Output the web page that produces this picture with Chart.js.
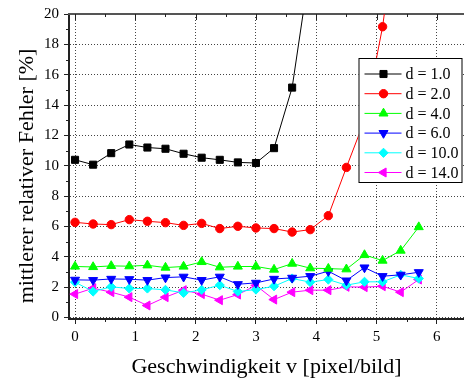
<!DOCTYPE html>
<html>
<head>
<meta charset="utf-8">
<script src="https://cdn.jsdelivr.net/npm/chart.js@4/dist/chart.umd.min.js"></script>
<style>
  html, body { margin: 0; padding: 0; background: #fff; overflow: hidden; }
</style>
</head>
<body>
<canvas id="chart" width="464" height="381"></canvas>
<script>
// speeds v [pixel/bild]
const speeds = [0, 0.3, 0.6, 0.9, 1.2, 1.5, 1.8, 2.1, 2.4, 2.7, 3.0, 3.3, 3.6, 3.9, 4.2, 4.5, 4.8, 5.1, 5.4, 5.7]

// mean relative error [%] per d
const errD1 = [10.39, 10.07, 10.83, 11.4, 11.2, 11.12, 10.79, 10.53, 10.39, 10.22, 10.18, 11.16, 15.15, 23.2]
const errD2 = [6.27, 6.16, 6.12, 6.45, 6.34, 6.25, 6.07, 6.2, 5.86, 6.01, 5.9, 5.86, 5.63, 5.79, 6.71, 9.89, 13.0, 19.16, 28]
const errD4 = [3.36, 3.33, 3.4, 3.38, 3.44, 3.29, 3.36, 3.66, 3.31, 3.36, 3.36, 3.16, 3.55, 3.25, 3.22, 3.18, 4.12, 3.75, 4.41, 5.96]
const errD6 = [2.48, 2.46, 2.54, 2.52, 2.46, 2.63, 2.68, 2.46, 2.68, 2.19, 2.28, 2.54, 2.61, 2.72, 3.05, 2.43, 3.29, 2.72, 2.81, 2.98]
const errD10 = [2.33, 1.71, 2.02, 1.91, 1.91, 1.82, 1.62, 1.82, 2.13, 1.71, 1.84, 2.06, 2.57, 2.33, 2.5, 2.13, 2.35, 2.35, 2.81, 2.57]
const errD14 = [1.54, 1.93, 1.67, 1.34, 0.79, 1.34, 1.8, 1.54, 1.14, 1.51, 2.11, 1.18, 1.67, 1.8, 1.8, 2.02, 2.0, 2.06, 1.67, 2.5]

const seriesLabels = ["d = 1.0", "d = 2.0", "d = 4.0", "d = 6.0", "d = 10.0", "d = 14.0"]
const xTicks = [0, 1, 2, 3, 4, 5, 6]
const yTicks = [0, 2, 4, 6, 8, 10, 12, 14, 16, 18, 20]

const FONT = '"Liberation Serif", "Times New Roman", serif'

function pts(arr) {
  return arr.map((y, i) => ({ x: speeds[i], y: y }))
}

function series(label, arr, color, style, rotation, radius) {
  return {
    label: label,
    data: pts(arr),
    borderColor: color,
    backgroundColor: color,
    borderWidth: 1,
    pointStyle: style,
    pointRotation: rotation,
    pointRadius: radius,
    pointBorderWidth: 1,
    pointBorderColor: color,
    pointBackgroundColor: color,
    tension: 0,
  }
}

// frame top line + minor ticks + inward top ticks
const framePlugin = {
  id: "frame",
  beforeDatasetsDraw(chart) {
    const ctx = chart.ctx
    const a = chart.chartArea
    const xs = chart.scales.x
    const ys = chart.scales.y
    ctx.save()
    ctx.strokeStyle = "#555"
    ctx.lineWidth = 2
    ctx.beginPath()
    ctx.moveTo(a.left - 1, a.top)
    ctx.lineTo(a.right, a.top)
    ctx.stroke()

    ctx.strokeStyle = "#222"
    ctx.lineWidth = 1
    ctx.beginPath()
    xTicks.forEach(v => {
      const px = Math.round(xs.getPixelForValue(v)) + 0.5
      ctx.moveTo(px, a.top); ctx.lineTo(px, a.top + 6)
      const pm = Math.round(xs.getPixelForValue(v + 0.5)) + 0.5
      if (v + 0.5 < xs.max) {
        ctx.moveTo(pm, a.top); ctx.lineTo(pm, a.top + 3)
        ctx.moveTo(pm, a.bottom); ctx.lineTo(pm, a.bottom + 3)
      }
    })
    yTicks.forEach(v => {
      if (v + 1 <= ys.max) {
        const py = Math.round(ys.getPixelForValue(v + 1)) + 0.5
        ctx.moveTo(a.left, py); ctx.lineTo(a.left - 3, py)
      }
    })
    ctx.stroke()
    ctx.restore()
  },
}

const boxLegend = {
  id: "boxLegend",
  afterDatasetsDraw(chart) {
    const ctx = chart.ctx
    const a = chart.chartArea
    const left = a.right - 105.5
    const top = a.top + 44
    const w = 104
    const h = 125
    ctx.save()
    ctx.fillStyle = "#fff"
    ctx.fillRect(left, top, w, h)
    ctx.strokeStyle = "#000"
    ctx.lineWidth = 1
    ctx.strokeRect(left + 0.5, top + 0.5, w - 1, h - 1)
    chart.data.datasets.forEach((ds, i) => {
      const y = top + 16 + i * 19.7
      ctx.strokeStyle = ds.borderColor
      ctx.fillStyle = ds.backgroundColor
      ctx.lineWidth = 1
      ctx.beginPath()
      ctx.moveTo(left + 6, y)
      ctx.lineTo(left + 43, y)
      ctx.stroke()
      Chart.helpers.drawPoint(ctx, {
        pointStyle: ds.pointStyle,
        rotation: ds.pointRotation,
        radius: ds.pointRadius,
        borderWidth: 1,
      }, left + 25, y)
      ctx.fillStyle = "#000"
      ctx.font = "16px " + FONT
      ctx.textBaseline = "middle"
      ctx.textAlign = "left"
      ctx.fillText(ds.label, left + 47, y + 1)
    })
    ctx.restore()
  },
}

const titles = {
  id: "titles",
  afterDraw(chart) {
    const ctx = chart.ctx
    const a = chart.chartArea
    ctx.save()
    ctx.fillStyle = "#000"
    ctx.textAlign = "center"
    ctx.textBaseline = "middle"
    ctx.font = "22px " + FONT
    ctx.fillText("Geschwindigkeit v [pixel/bild]", (a.left + a.right) / 2, 367)
    ctx.translate(27, 176)
    ctx.rotate(-Math.PI / 2)
    ctx.fillText("mittlerer relativer Fehler [%]", 0, 0)
    ctx.restore()
  },
}

new Chart(document.getElementById("chart"), {
  type: "line",
  data: {
    datasets: [
      series(seriesLabels[0], errD1, "#000000", "rect", 0, 5),
      series(seriesLabels[1], errD2, "#ff0000", "circle", 0, 4.2),
      series(seriesLabels[2], errD4, "#00ff00", "triangle", 0, 5.2),
      series(seriesLabels[3], errD6, "#0000ff", "triangle", 180, 5.2),
      series(seriesLabels[4], errD10, "#00ffff", "rectRot", 0, 4.6),
      series(seriesLabels[5], errD14, "#ff00ff", "triangle", 270, 5.2),
    ],
  },
  options: {
    responsive: false,
    animation: false,
    events: [],
    layout: { autoPadding: false, padding: { top: 13, right: 0, left: 0, bottom: 0 } },
    plugins: {
      legend: { display: false },
      tooltip: { enabled: false },
    },
    scales: {
      x: {
        type: "linear",
        min: -0.1,
        max: 6.45,
        afterBuildTicks: s => { s.ticks = xTicks.map(v => ({ value: v })) },
        afterFit: s => { s.height = 62 },
        ticks: {
          color: "#000",
          font: { family: FONT, size: 15 },
          padding: 4,
          maxRotation: 0,
        },
        grid: {
          color: "#444",
          lineWidth: 1,
          tickLength: 5,
          tickColor: "#222",
          tickBorderDash: [],
        },
        border: { color: "#222", width: 2, dash: [1, 2] },
      },
      y: {
        type: "linear",
        min: -0.1,
        max: 20,
        afterBuildTicks: s => { s.ticks = yTicks.map(v => ({ value: v })) },
        afterFit: s => { s.width = 69 },
        ticks: {
          color: "#000",
          font: { family: FONT, size: 15 },
          padding: 5,
        },
        grid: {
          color: "#444",
          lineWidth: 1,
          tickLength: 5,
          tickColor: "#222",
          tickBorderDash: [],
        },
        border: { color: "#222", width: 2, dash: [1, 2] },
      },
    },
  },
  plugins: [framePlugin, boxLegend, titles],
})
</script>
</body>
</html>
